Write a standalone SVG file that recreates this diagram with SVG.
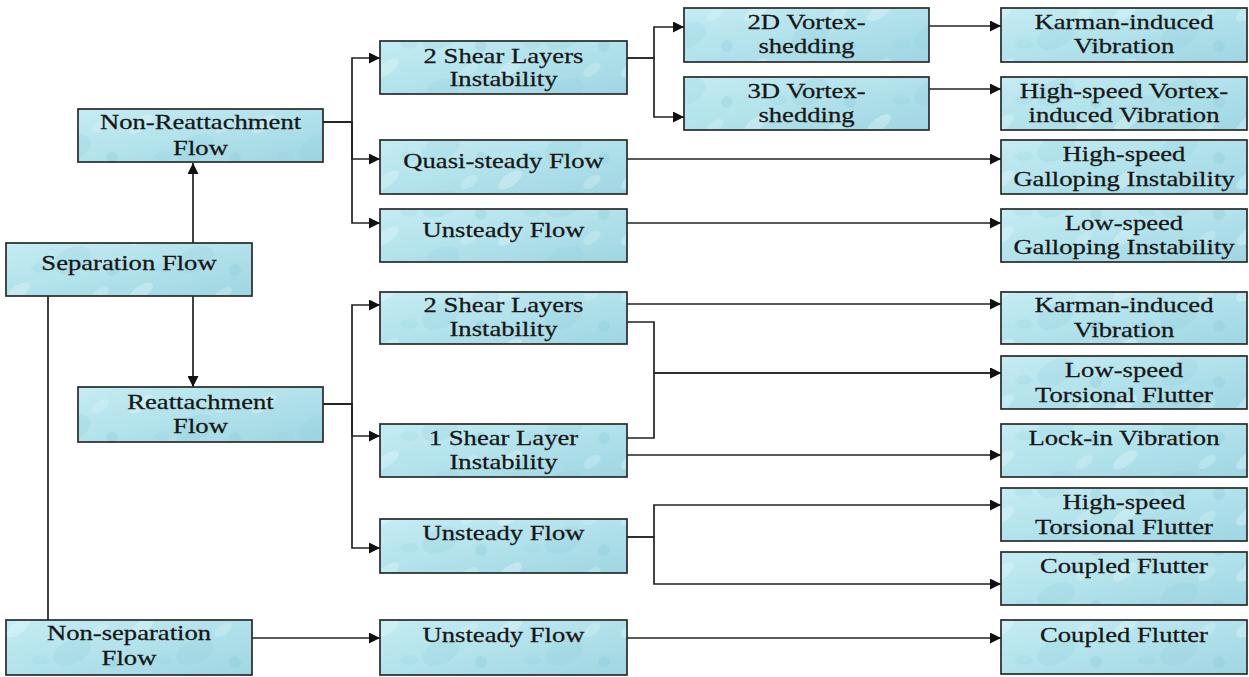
<svg xmlns="http://www.w3.org/2000/svg" width="1249" height="677" viewBox="0 0 1249 677">
<defs>
<linearGradient id="g" x1="0" y1="0" x2="1" y2="1">
<stop offset="0" stop-color="#c4ecf3"/>
<stop offset="0.5" stop-color="#b2e2eb"/>
<stop offset="1" stop-color="#9fd6e2"/>
</linearGradient>
<pattern id="p" patternUnits="userSpaceOnUse" width="123" height="56">
<ellipse cx="18" cy="12" rx="14" ry="6" fill="#e4f8fb" opacity="0.35" transform="rotate(-35 18 12)"/>
<ellipse cx="72" cy="36" rx="20" ry="12" fill="#8ccbd9" opacity="0.22" transform="rotate(-25 72 36)"/>
<ellipse cx="100" cy="14" rx="10" ry="5" fill="#dff6fa" opacity="0.3" transform="rotate(-35 100 14)"/>
<ellipse cx="40" cy="44" rx="9" ry="5" fill="#93d1dd" opacity="0.22"/>
<circle cx="112" cy="46" r="6" fill="#7fc2d2" opacity="0.25"/>
</pattern>
<marker id="ah" viewBox="0 0 10 10" refX="10" refY="5" markerWidth="13" markerHeight="11" markerUnits="userSpaceOnUse" orient="auto">
<path d="M0,0 L10,5 L0,10 z" fill="#111"/>
</marker>
<style>
.node rect.bg { fill: url(#g); stroke: #2a2a2a; stroke-width: 1.7; }
.node rect.tx { fill: url(#p); stroke: none; }
.node text { font-family: "Liberation Serif", "Times New Roman", serif; font-size: 20.5px; fill: #161616; stroke: #161616; stroke-width: 0.25; text-anchor: middle; }
.conn path { fill: none; stroke: #222; stroke-width: 1.7; }
.conn path.a { marker-end: url(#ah); }
</style>
</defs>

<g id="connectors" class="conn">
<path class="a" d="M193,243 V163"/>
<path class="a" d="M193,296 V387"/>
<path d="M48,296 V620"/>
<path class="a" d="M323,122 H352 V58 H380"/>
<path class="a" d="M323,122 H352 V159 H380"/>
<path class="a" d="M323,122 H352 V223 H380"/>
<path class="a" d="M627,58 H654 V27 H684"/>
<path class="a" d="M627,58 H654 V117 H684"/>
<path class="a" d="M929,26 H1001"/>
<path class="a" d="M929,89 H1001"/>
<path class="a" d="M627,159 H1001"/>
<path class="a" d="M627,223 H1001"/>
<path class="a" d="M323,404 H352 V305 H380"/>
<path class="a" d="M323,404 H352 V436 H380"/>
<path class="a" d="M323,404 H352 V548 H380"/>
<path class="a" d="M627,304 H1001"/>
<path class="a" d="M627,322 H654 V373 H1001"/>
<path class="a" d="M627,438 H654 V373 H1001"/>
<path class="a" d="M627,455 H1001"/>
<path class="a" d="M627,537 H654 V505 H1001"/>
<path class="a" d="M627,537 H654 V584 H1001"/>
<path class="a" d="M252,638 H380"/>
<path class="a" d="M627,638 H1001"/>
</g>

<g id="n-separation" class="node"><rect class="bg" x="6" y="243" width="246" height="53"/><rect class="tx" x="7" y="244" width="244" height="51"/><text transform="translate(129,0) scale(1.3,1)" y="270">Separation Flow</text></g>
<g id="n-nonsep" class="node"><rect class="bg" x="6" y="620" width="246" height="55"/><rect class="tx" x="7" y="621" width="244" height="53"/><text transform="translate(129,0) scale(1.3,1)" y="640">Non-separation</text><text transform="translate(129,0) scale(1.3,1)" y="665">Flow</text></g>
<g id="n-nonreatt" class="node"><rect class="bg" x="78" y="109" width="245" height="53"/><rect class="tx" x="79" y="110" width="243" height="51"/><text transform="translate(200.5,0) scale(1.3,1)" y="129">Non-Reattachment</text><text transform="translate(200.5,0) scale(1.3,1)" y="155">Flow</text></g>
<g id="n-reatt" class="node"><rect class="bg" x="78" y="387" width="245" height="55"/><rect class="tx" x="79" y="388" width="243" height="53"/><text transform="translate(200.5,0) scale(1.3,1)" y="409">Reattachment</text><text transform="translate(200.5,0) scale(1.3,1)" y="433">Flow</text></g>

<g id="n-c1" class="node"><rect class="bg" x="380" y="41" width="247" height="53"/><rect class="tx" x="381" y="42" width="245" height="51"/><text transform="translate(503.5,0) scale(1.3,1)" y="63">2 Shear Layers</text><text transform="translate(503.5,0) scale(1.3,1)" y="86">Instability</text></g>
<g id="n-c2" class="node"><rect class="bg" x="380" y="140" width="247" height="54"/><rect class="tx" x="381" y="141" width="245" height="52"/><text transform="translate(503.5,0) scale(1.3,1)" y="168">Quasi-steady Flow</text></g>
<g id="n-c3" class="node"><rect class="bg" x="380" y="209" width="247" height="53"/><rect class="tx" x="381" y="210" width="245" height="51"/><text transform="translate(503.5,0) scale(1.3,1)" y="237">Unsteady Flow</text></g>
<g id="n-c4" class="node"><rect class="bg" x="380" y="292" width="247" height="52"/><rect class="tx" x="381" y="293" width="245" height="50"/><text transform="translate(503.5,0) scale(1.3,1)" y="312">2 Shear Layers</text><text transform="translate(503.5,0) scale(1.3,1)" y="336">Instability</text></g>
<g id="n-c5" class="node"><rect class="bg" x="380" y="424" width="247" height="53"/><rect class="tx" x="381" y="425" width="245" height="51"/><text transform="translate(503.5,0) scale(1.3,1)" y="445">1 Shear Layer</text><text transform="translate(503.5,0) scale(1.3,1)" y="469">Instability</text></g>
<g id="n-c6" class="node"><rect class="bg" x="380" y="519" width="247" height="54"/><rect class="tx" x="381" y="520" width="245" height="52"/><text transform="translate(503.5,0) scale(1.3,1)" y="540">Unsteady Flow</text></g>
<g id="n-c7" class="node"><rect class="bg" x="380" y="620" width="247" height="55"/><rect class="tx" x="381" y="621" width="245" height="53"/><text transform="translate(503.5,0) scale(1.3,1)" y="642">Unsteady Flow</text></g>

<g id="n-2d" class="node"><rect class="bg" x="684" y="8" width="245" height="54"/><rect class="tx" x="685" y="9" width="243" height="52"/><text transform="translate(806.5,0) scale(1.3,1)" y="29">2D Vortex-</text><text transform="translate(806.5,0) scale(1.3,1)" y="53">shedding</text></g>
<g id="n-3d" class="node"><rect class="bg" x="684" y="77" width="245" height="53"/><rect class="tx" x="685" y="78" width="243" height="51"/><text transform="translate(806.5,0) scale(1.3,1)" y="98">3D Vortex-</text><text transform="translate(806.5,0) scale(1.3,1)" y="122">shedding</text></g>

<g id="n-e1" class="node"><rect class="bg" x="1001" y="8" width="246" height="54"/><rect class="tx" x="1002" y="9" width="244" height="52"/><text transform="translate(1124,0) scale(1.3,1)" y="29">Karman-induced</text><text transform="translate(1124,0) scale(1.3,1)" y="53">Vibration</text></g>
<g id="n-e2" class="node"><rect class="bg" x="1001" y="77" width="246" height="53"/><rect class="tx" x="1002" y="78" width="244" height="51"/><text transform="translate(1124,0) scale(1.3,1)" y="98">High-speed Vortex-</text><text transform="translate(1124,0) scale(1.3,1)" y="122">induced Vibration</text></g>
<g id="n-e3" class="node"><rect class="bg" x="1001" y="140" width="246" height="54"/><rect class="tx" x="1002" y="141" width="244" height="52"/><text transform="translate(1124,0) scale(1.3,1)" y="161">High-speed</text><text transform="translate(1124,0) scale(1.3,1)" y="186">Galloping Instability</text></g>
<g id="n-e4" class="node"><rect class="bg" x="1001" y="209" width="246" height="53"/><rect class="tx" x="1002" y="210" width="244" height="51"/><text transform="translate(1124,0) scale(1.3,1)" y="230">Low-speed</text><text transform="translate(1124,0) scale(1.3,1)" y="254">Galloping Instability</text></g>
<g id="n-e5" class="node"><rect class="bg" x="1001" y="292" width="246" height="52"/><rect class="tx" x="1002" y="293" width="244" height="50"/><text transform="translate(1124,0) scale(1.3,1)" y="312">Karman-induced</text><text transform="translate(1124,0) scale(1.3,1)" y="337">Vibration</text></g>
<g id="n-e6" class="node"><rect class="bg" x="1001" y="356" width="246" height="53"/><rect class="tx" x="1002" y="357" width="244" height="51"/><text transform="translate(1124,0) scale(1.3,1)" y="377">Low-speed</text><text transform="translate(1124,0) scale(1.3,1)" y="402">Torsional Flutter</text></g>
<g id="n-e7" class="node"><rect class="bg" x="1001" y="424" width="246" height="53"/><rect class="tx" x="1002" y="425" width="244" height="51"/><text transform="translate(1124,0) scale(1.3,1)" y="445">Lock-in Vibration</text></g>
<g id="n-e8" class="node"><rect class="bg" x="1001" y="488" width="246" height="53"/><rect class="tx" x="1002" y="489" width="244" height="51"/><text transform="translate(1124,0) scale(1.3,1)" y="509">High-speed</text><text transform="translate(1124,0) scale(1.3,1)" y="534">Torsional Flutter</text></g>
<g id="n-e9" class="node"><rect class="bg" x="1001" y="552" width="246" height="53"/><rect class="tx" x="1002" y="553" width="244" height="51"/><text transform="translate(1124,0) scale(1.3,1)" y="573">Coupled Flutter</text></g>
<g id="n-e10" class="node"><rect class="bg" x="1001" y="620" width="246" height="54"/><rect class="tx" x="1002" y="621" width="244" height="52"/><text transform="translate(1124,0) scale(1.3,1)" y="642">Coupled Flutter</text></g>
</svg>
